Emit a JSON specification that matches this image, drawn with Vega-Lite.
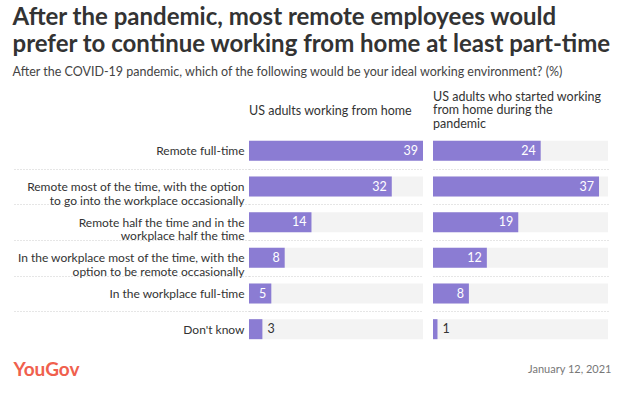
{
  "$schema": "https://vega.github.io/schema/vega-lite/v6.json",
  "background": "white",
  "padding": {"left": 12, "top": 6, "right": 10, "bottom": 6},
  "config": {"font": "Lato", "view": {"stroke": null}, "concat": {"spacing": 10}},
  "title": {
    "text": ["After the pandemic, most remote employees would", "prefer to continue working from home at least part-time"],
    "subtitle": "After the COVID-19 pandemic, which of the following would be your ideal working environment? (%)",
    "anchor": "start",
    "fontSize": 24,
    "fontWeight": "bold",
    "color": "#333333",
    "lineHeight": 27,
    "subtitleFontSize": 12.5,
    "subtitleColor": "#444444",
    "subtitlePadding": 9,
    "offset": 12
  },
  "data": {
    "values": [
      {"label": "Remote full-time", "group": "A", "value": 39},
      {"label": "Remote most of the time, with the option|to go into the workplace occasionally", "group": "A", "value": 32},
      {"label": "Remote half the time and in the|workplace half the time", "group": "A", "value": 14},
      {"label": "In the workplace most of the time, with the|option to be remote occasionally", "group": "A", "value": 8},
      {"label": "In the workplace full-time", "group": "A", "value": 5},
      {"label": "Don't know", "group": "A", "value": 3},
      {"label": "Remote full-time", "group": "B", "value": 24},
      {"label": "Remote most of the time, with the option|to go into the workplace occasionally", "group": "B", "value": 37},
      {"label": "Remote half the time and in the|workplace half the time", "group": "B", "value": 19},
      {"label": "In the workplace most of the time, with the|option to be remote occasionally", "group": "B", "value": 12},
      {"label": "In the workplace full-time", "group": "B", "value": 8},
      {"label": "Don't know", "group": "B", "value": 1}
    ]
  },
  "hconcat": [
    {
      "width": 174,
      "height": 214,
      "transform": [{"filter": "datum.group === 'A'"}],
      "title": {"text": "US adults working from home", "anchor": "start", "frame": "group", "fontSize": 12.5, "fontWeight": "normal", "color": "#333333", "baseline": "middle", "offset": 4},
      "encoding": {
        "y": {
          "field": "label", "type": "nominal", "sort": null,
          "scale": {"paddingInner": 0, "paddingOuter": 0},
          "axis": {
            "title": null, "domain": false, "labelLimit": 400, "labelFontSize": 12, "labelColor": "#333333",
            "labelLineHeight": 13.5, "labelExpr": "split(datum.label, '|')",
            "tickBand": "extent", "tickSize": 236, "tickColor": "#cccccc", "tickDash": [1, 2],
            "tickOpacity": {"condition": {"test": "datum.index === 1 || datum.index < 0", "value": 0}, "value": 1},
            "labelPadding": -231,
            "grid": true, "gridColor": "#cccccc", "gridDash": [1, 2],
            "gridOpacity": {"condition": {"test": "datum.index === 1 || datum.index < 0", "value": 0}, "value": 1}
          }
        }
      },
      "layer": [
        {
          "mark": {"type": "bar", "color": "#f3f3f3", "height": 20},
          "encoding": {
            "x": {"datum": 39, "type": "quantitative", "title": "YouGov", "scale": {"domain": [0, 39], "nice": false},
              "axis": {"domain": false, "ticks": false, "labels": false, "grid": false, "titleX": -236, "titleY": 22, "titleAlign": "left", "titleBaseline": "middle", "titleFontSize": 19, "titleFontWeight": "bold", "titleColor": "#f0604d"}}
          }
        },
        {
          "mark": {"type": "bar", "color": "#8b7cd3", "height": 20},
          "encoding": {
            "x": {"field": "value", "type": "quantitative", "title": "YouGov", "scale": {"domain": [0, 39], "nice": false},
              "axis": {"domain": false, "ticks": false, "labels": false, "grid": false, "titleX": -236, "titleY": 22, "titleAlign": "left", "titleBaseline": "middle", "titleFontSize": 19, "titleFontWeight": "bold", "titleColor": "#f0604d"}}
          }
        },
        {
          "transform": [{"filter": "datum.value >= 5"}],
          "mark": {"type": "text", "align": "right", "dx": -5, "color": "white", "fontSize": 12.5, "baseline": "middle"},
          "encoding": {
            "x": {"field": "value", "type": "quantitative", "title": "YouGov"},
            "text": {"field": "value", "type": "quantitative"}
          }
        },
        {
          "transform": [{"filter": "datum.value < 5"}],
          "mark": {"type": "text", "align": "left", "dx": 5, "color": "#333333", "fontSize": 12.5, "baseline": "middle"},
          "encoding": {
            "x": {"field": "value", "type": "quantitative", "title": "YouGov"},
            "text": {"field": "value", "type": "quantitative"}
          }
        }
      ]
    },
    {
      "width": 175,
      "height": 214,
      "transform": [{"filter": "datum.group === 'B'"}],
      "title": {"text": ["US adults who started working", "from home during the", "pandemic"], "anchor": "start", "frame": "group", "fontSize": 12.5, "fontWeight": "normal", "color": "#333333", "baseline": "middle", "lineHeight": 13.5, "offset": -3},
      "encoding": {
        "y": {
          "field": "label", "type": "nominal", "sort": null,
          "scale": {"paddingInner": 0, "paddingOuter": 0},
          "axis": {
            "title": null, "domain": false, "labels": false, "ticks": false,
            "tickBand": "extent",
            "grid": true, "gridColor": "#cccccc", "gridDash": [1, 2],
            "gridOpacity": {"condition": {"test": "datum.index === 1 || datum.index < 0", "value": 0}, "value": 1}
          }
        }
      },
      "layer": [
        {
          "mark": {"type": "bar", "color": "#f3f3f3", "height": 20},
          "encoding": {
            "x": {"datum": 39, "type": "quantitative", "title": "January 12, 2021", "scale": {"domain": [0, 39], "nice": false},
              "axis": {"domain": false, "ticks": false, "labels": false, "grid": false, "titleX": 178, "titleY": 22, "titleAlign": "right", "titleBaseline": "middle", "titleFontSize": 11, "titleFontWeight": "normal", "titleColor": "#777777"}}
          }
        },
        {
          "mark": {"type": "bar", "color": "#8b7cd3", "height": 20},
          "encoding": {
            "x": {"field": "value", "type": "quantitative", "title": "January 12, 2021", "scale": {"domain": [0, 39], "nice": false},
              "axis": {"domain": false, "ticks": false, "labels": false, "grid": false, "titleX": 178, "titleY": 22, "titleAlign": "right", "titleBaseline": "middle", "titleFontSize": 11, "titleFontWeight": "normal", "titleColor": "#777777"}}
          }
        },
        {
          "transform": [{"filter": "datum.value >= 5"}],
          "mark": {"type": "text", "align": "right", "dx": -5, "color": "white", "fontSize": 12.5, "baseline": "middle"},
          "encoding": {
            "x": {"field": "value", "type": "quantitative", "title": "January 12, 2021"},
            "text": {"field": "value", "type": "quantitative"}
          }
        },
        {
          "transform": [{"filter": "datum.value < 5"}],
          "mark": {"type": "text", "align": "left", "dx": 5, "color": "#333333", "fontSize": 12.5, "baseline": "middle"},
          "encoding": {
            "x": {"field": "value", "type": "quantitative", "title": "January 12, 2021"},
            "text": {"field": "value", "type": "quantitative"}
          }
        }
      ]
    }
  ]
}
